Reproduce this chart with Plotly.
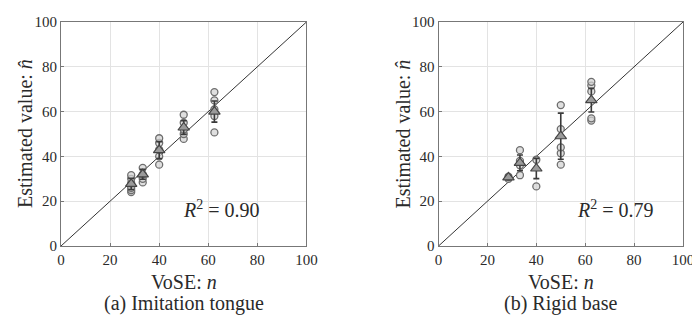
import plotly.graph_objects as go

vose = [28.6, 33.3, 40, 50, 62.5]
ticks = [0, 20, 40, 60, 80, 100]

# (a) Imitation tongue
a_samples = [
    [24.1, 25.0, 26.0, 28.0, 30.0, 31.6],
    [28.4, 30.0, 32.0, 34.9],
    [36.3, 40.0, 43.0, 46.0, 48.1],
    [47.8, 50.0, 52.0, 55.0, 58.6],
    [50.7, 58.0, 61.0, 65.0, 68.7],
]
a_mean = [27.7, 32.0, 42.8, 52.9, 60.0]
a_std = [2.5, 2.2, 3.8, 3.0, 4.7]
a_r2 = "0.90"

# (b) Rigid base
b_samples = [
    [30.0, 31.0],
    [31.6, 36.0, 38.0, 42.8],
    [26.6, 38.5],
    [36.3, 41.4, 44.0, 52.2, 62.9],
    [56.0, 57.0, 69.0, 71.6, 73.3],
]
b_mean = [30.6, 37.1, 34.6, 49.0, 65.1]
b_std = [1.0, 3.5, 4.5, 10.3, 5.3]
b_r2 = "0.79"

FONT = "Liberation Serif"
TXT = "#2a2a2a"

fig = go.Figure()

def add_panel(samples, mean, std, xa, ya):
    xs, ys = [], []
    for x, grp in zip(vose, samples):
        for v in grp:
            xs.append(x)
            ys.append(v)
    fig.add_trace(go.Scatter(x=[0, 100], y=[0, 100], mode="lines",
                             line=dict(color="#333333", width=1),
                             xaxis=xa, yaxis=ya, showlegend=False))
    fig.add_trace(go.Scatter(x=xs, y=ys, mode="markers",
                             marker=dict(symbol="circle", size=7,
                                         color="rgba(210,210,210,0.7)",
                                         line=dict(color="#6e6e6e", width=1.3)),
                             xaxis=xa, yaxis=ya, showlegend=False))
    fig.add_trace(go.Scatter(x=vose, y=mean, mode="markers",
                             marker=dict(symbol="triangle-up", size=10,
                                         color="#9a9a9a",
                                         line=dict(color="#444444", width=1.2)),
                             error_y=dict(type="data", array=std, color="#3a3a3a",
                                          thickness=1.6, width=3),
                             xaxis=xa, yaxis=ya, showlegend=False))

add_panel(a_samples, a_mean, a_std, "x", "y")
add_panel(b_samples, b_mean, b_std, "x2", "y2")

ax_common = dict(range=[0, 100], tickvals=ticks, showgrid=True, gridcolor="#e3e3e3",
                 gridwidth=1, zeroline=False, showline=True, mirror=True,
                 linecolor="#777777", linewidth=1, ticks="inside", ticklen=3,
                 tickcolor="#777777", ticklabeloverflow="allow",
                 tickfont=dict(family=FONT, size=15, color=TXT))

# page body has an 8px margin, so the figure is sized to fit the window
W_PLOT = 692 - 61
d1 = [0, (310 - 61) / W_PLOT]
d2 = [(444 - 61) / W_PLOT, 1]

fig.update_layout(
    width=692, height=312,
    margin=dict(l=53, r=8, t=6, b=74),
    paper_bgcolor="white", plot_bgcolor="white",
    font=dict(family=FONT, color=TXT),
    xaxis=dict(domain=d1, anchor="y", **ax_common),
    yaxis=dict(domain=[0, 1], anchor="x", **ax_common),
    xaxis2=dict(domain=d2, anchor="y2", **ax_common),
    yaxis2=dict(domain=[0, 1], anchor="x2", **ax_common),
)

annos = []
for cap, dom in [("(a) Imitation tongue", d1), ("(b) Rigid base", d2)]:
    cx = (dom[0] + dom[1]) / 2
    annos.append(dict(x=cx, y=0, xref="paper", yref="paper", yshift=-36,
                      xanchor="center", yanchor="middle",
                      text="VoSE: <i>n</i>", showarrow=False,
                      font=dict(family=FONT, size=20, color=TXT)))
    annos.append(dict(x=cx, y=0, xref="paper", yref="paper", yshift=-57,
                      xanchor="center", yanchor="middle",
                      text=cap, showarrow=False,
                      font=dict(family=FONT, size=20, color=TXT)))
    annos.append(dict(x=dom[0], y=0.5, xref="paper", yref="paper",
                      xshift=-36, xanchor="center", yanchor="middle",
                      text="Estimated value: <i>n̂</i>",
                      textangle=-90, showarrow=False,
                      font=dict(family=FONT, size=20, color=TXT)))
xs_r2 = {"x": 65.5, "x2": 72.2}
for xref, yref, r2 in [("x", "y", a_r2), ("x2", "y2", b_r2)]:
    annos.append(dict(x=xs_r2[xref], y=16.4, xref=xref, yref=yref,
                      xanchor="center", yanchor="middle",
                      text="<i>R</i><sup>2</sup> = " + r2, showarrow=False,
                      font=dict(family=FONT, size=20, color=TXT)))
fig.update_layout(annotations=annos)

fig.write_html("out.html")
